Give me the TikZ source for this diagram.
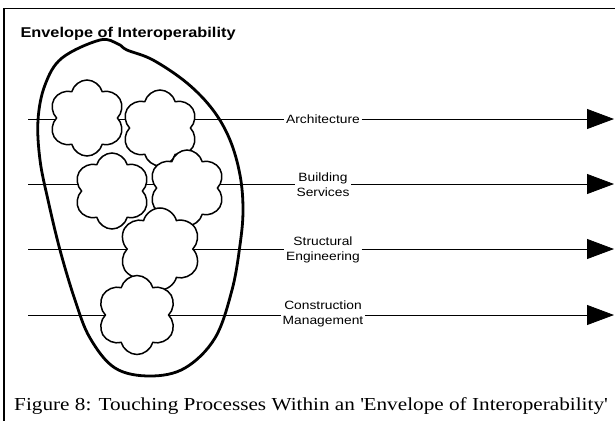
\documentclass[tikz,border=0pt]{standalone}
\usepackage{fontspec}
\setmainfont{Liberation Serif}[FakeStretch=1.16]
\newfontfamily\arialfont{Liberation Sans}[FakeStretch=1.15]
\usepackage{tikz}
\usetikzlibrary{shapes.symbols,arrows.meta}

\tikzset{
  process/.style={cloud, draw, fill=white, line width=1.5pt, cloud puffs=6,
    cloud puff arc=150, minimum width=76pt, minimum height=76pt, inner sep=0pt},
  discipline/.style={fill=white, inner sep=1.5pt, align=center,
    font=\arialfont\fontsize{12}{15}\selectfont},
  flow/.style={line width=.8pt},
}

\begin{document}
\begin{tikzpicture}[x=1pt, y=-1pt]
  \useasboundingbox (0,0) rectangle (615,421);

  % frame and title
  \draw[line width=1.5pt] (615,8.5) -- (4,8.5) -- (4,421);
  \node[anchor=base west, font=\arialfont\bfseries\fontsize{14.2}{17}\selectfont]
    (title) at (17,37) {Envelope of Interoperability};

  % disciplines
  \coordinate (arch-s) at (28,119);
  \coordinate (arch-e) at (614,119);
  \node[discipline] (arch) at (323,119) {Architecture};
  \coordinate (serv-s) at (28,184);
  \coordinate (serv-e) at (614,184);
  \node[discipline] (serv) at (323,185) {Building\\Services};
  \coordinate (struct-s) at (28,249);
  \coordinate (struct-e) at (614,249);
  \node[discipline] (struct) at (323,250) {Structural\\Engineering};
  \coordinate (constr-s) at (28,315);
  \coordinate (constr-e) at (614,315);
  \node[discipline] (constr) at (323,314) {Construction\\Management};

  \draw[flow] (arch-s) -- (arch.west);
  \draw[flow, -{Triangle[length=27pt,width=20pt]}] (arch.east) -- (arch-e);
  \draw[flow] (serv-s) -- (serv-s -| serv.west);
  \draw[flow, -{Triangle[length=27pt,width=20pt]}] (serv-s -| serv.east) -- (serv-e);
  \draw[flow] (struct-s) -- (struct-s -| struct.west);
  \draw[flow, -{Triangle[length=27pt,width=20pt]}] (struct-s -| struct.east) -- (struct-e);
  \draw[flow] (constr-s) -- (constr-s -| constr.west);
  \draw[flow, -{Triangle[length=27pt,width=20pt]}] (constr-s -| constr.east) -- (constr-e);

  % touching processes
  \node[process, shape border rotate=10] (p1) at (87,118) {};
  \node[process, shape border rotate=35] (p2) at (160,128) {};
  \node[process, shape border rotate=60] (p3) at (112,191) {};
  \node[process, shape border rotate=20] (p4) at (187,188) {};
  \node[process, shape border rotate=75, minimum width=82pt, minimum height=82pt] (p5) at (160,249) {};
  \node[process, shape border rotate=45, minimum width=79pt, minimum height=79pt] (p6) at (137,315) {};

  % envelope
  \draw[line width=2.8pt] plot[smooth cycle, tension=0.6] coordinates {
    (100,40) (118,44) (127,50) (153,60) (187,83) (213,110) (230,140) (240,175)
    (243,210) (240,245) (232,290) (215,338) (185,368) (150,376) (115,368)
    (90,338) (75,300) (60,250) (48,200) (40,160) (38,120) (45,85) (62,58)};

  % caption
  \node[anchor=base west, font=\fontsize{18.3}{21}\selectfont, inner sep=0pt]
    (caption) at (14,410) {Figure 8: Touching Processes Within an \textquotesingle Envelope of Interoperability\textquotesingle};
\end{tikzpicture}
\end{document}
